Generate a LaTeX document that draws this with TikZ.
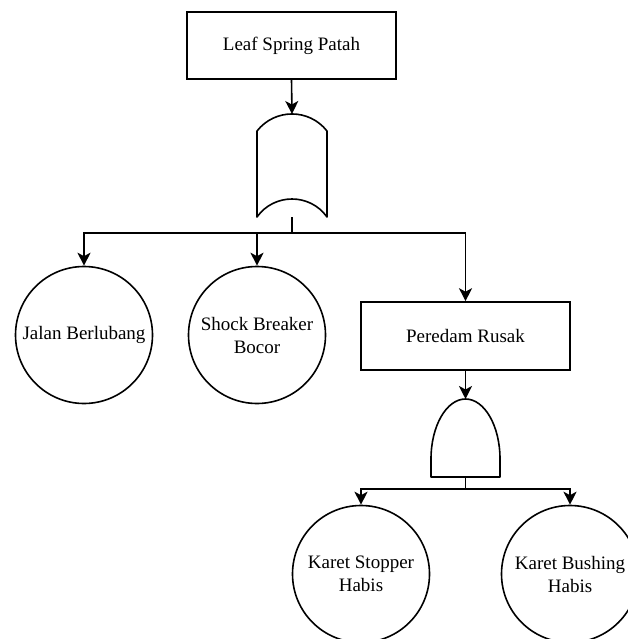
\documentclass[tikz,border=0pt]{standalone}
\usepackage{fontspec}
\setmainfont{Liberation Serif}
\usetikzlibrary{arrows.meta}
\begin{document}
\begin{tikzpicture}[x=1pt,y=-1pt,
  every node/.style={font=\fontsize{19}{23}\selectfont, text=black},
  evbox/.style={draw, line width=1.6pt, rectangle, inner sep=0pt, align=center},
  evcirc/.style={draw, line width=1.6pt, circle, inner sep=0pt, minimum size=137pt, align=center},
  gateline/.style={line width=1.6pt, line join=round},
  conn/.style={line width=1.6pt},
  arr/.style={conn, -{Stealth[length=13pt,width=13pt,inset=3.5pt]}}]
\useasboundingbox (0,0) rectangle (628,639);
\clip (0,0) rectangle (628,639);
\fill[white] (0,0) rectangle (628,639);

% top event
\node[evbox, minimum width=209pt, minimum height=67pt] (top) at (291.5,45.5) {Leaf Spring Patah};

% OR gate
\draw[gateline] (257,131) .. controls (274.9,108.3) and (309.1,108.3) .. (327,131) -- (327,217)
  .. controls (309.9,193) and (274.1,193) .. (257,217) -- cycle;
\coordinate (orin) at (292,114);
\coordinate (orout) at (292,217);
\coordinate (orbus) at (292,233);

% first level
\node[evcirc] (c1) at (84,335) {Jalan Berlubang};
\node[evcirc] (c2) at (257,335) {Shock Breaker\\Bocor};
\node[evbox, minimum width=209pt, minimum height=68pt] (pr) at (465.5,336) {Peredam Rusak};

% AND gate
\draw[gateline] (431,477) -- (431,459) .. controls (431,425.9) and (446.5,399) .. (465.5,399)
  .. controls (484.5,399) and (500,425.9) .. (500,459) -- (500,477) -- cycle;
\coordinate (andin) at (465.5,399);
\coordinate (andout) at (465.5,477);
\coordinate (andbus) at (465.5,489);

% second level
\node[evcirc] (c3) at (361,574) {Karet Stopper\\Habis};
\node[evcirc] (c4) at (570,574) {Karet Bushing\\Habis};

% connectors
\draw[arr] (top.south) -- (orin);
\draw[conn] (orout) -- (orbus);
\draw[arr] (orbus) -| (c1.north);
\draw[arr] (orbus) -| (c2.north);
\draw[arr] (orbus) -| (pr.north);
\draw[arr] (pr.south) -- (andin);
\draw[conn] (andout) -- (andbus);
\draw[arr] (andbus) -| (c3.north);
\draw[arr] (andbus) -| (c4.north);
\end{tikzpicture}
\end{document}
